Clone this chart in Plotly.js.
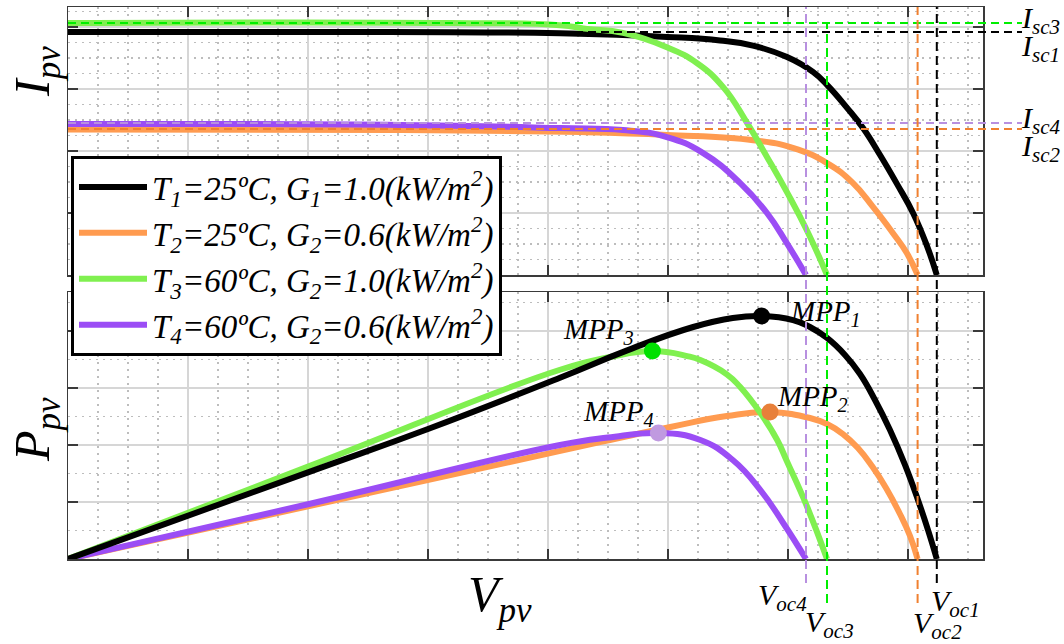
<!DOCTYPE html>
<html>
<head>
<meta charset="utf-8">
<script src="https://cdn.plot.ly/plotly-3.0.1.min.js"></script>
<style>html,body{margin:0;padding:0;background:#fff;}#chart{width:1064px;height:644px;}</style>
</head>
<body>
<div id="chart"></div>
<script>
// ---------- data (arbitrary units; axes carry no tick labels) ----------
// I-V curves (top panel)
const V_I1 = [0, 19.3, 31.8, 41, 49.92, 54.33, 57.08, 59.92, 62.08, 63.33, 64.92, 66.25, 67.67, 69.08, 70.42, 71.58, 72.4];
const I1   = [7.84, 7.84, 7.83, 7.80, 7.68, 7.565, 7.40, 7.03, 6.55, 6.10, 5.39, 4.74, 3.87, 2.94, 2.00, 0.94, 0];
const V_I2 = [0, 27.7, 42.7, 49.9, 57.1, 60.4, 63.25, 65.4, 67.1, 68.75, 69.9, 70.8];
const I2   = [4.69, 4.68, 4.61, 4.52, 4.35, 4.10, 3.61, 2.97, 2.19, 1.35, 0.71, 0];
const V_I3 = [0, 31.8, 41, 43.25, 46.25, 49.9, 52.4, 54.6, 56.6, 58.25, 59.9, 61.6, 63.25];
const I3   = [8.13, 8.13, 8.06, 7.94, 7.81, 7.35, 6.84, 6.06, 4.90, 3.81, 2.68, 1.42, 0];
const V_I4 = [0, 27.7, 41, 46.25, 49.9, 52.9, 56, 58.25, 59.9, 61.5];
const I4   = [4.87, 4.84, 4.74, 4.68, 4.45, 3.94, 2.97, 2.0, 1.03, 0];

// P-V curves (bottom panel)
const V_P1 = [0, 20, 30, 41, 46.6, 52.1, 55.4, 57.8, 60.42, 61.83, 63.25, 64.75, 66.0, 67.25, 68.5, 69.75, 70.83, 71.67, 72.4];
const P1   = [0, 76, 114, 159, 183, 203.5, 211.4, 213.1, 209.6, 203.5, 193.9, 179.0, 162.3, 139.5, 113.2, 82.5, 51.8, 25.4, 0];
const V_P2 = [0, 20, 40, 50.2, 54.9, 58.5, 61.83, 63.25, 64.58, 65.83, 67.0, 68.17, 69.33, 70.17, 70.8];
const P2   = [0, 46.2, 92.4, 115.8, 125.4, 128.9, 123.7, 118.4, 109.6, 97.3, 81.5, 62.2, 39.5, 20.2, 0];
const V_P3 = [0, 20, 41, 45.2, 48.7, 51.6, 52.7, 54.9, 56, 57.7, 59.1, 59.9, 61.6, 63.25];
const P3   = [0, 81, 166, 177.2, 182.4, 178, 174.5, 162, 151, 128, 104.4, 86, 45.6, 0];
const V_P4 = [0, 20, 41, 45, 49.2, 52.7, 55.4, 57.7, 59.6, 61.5];
const P4   = [0, 48, 100, 106.5, 110.5, 104.4, 86.8, 60.5, 31.6, 0];

// maximum power points (order: 1, 2, 3, 4)
const MPP_V = [57.8, 58.5, 48.7, 49.2];
const MPP_P = [213.1, 128.9, 182.4, 110.5];
const MPP_labels = ['MPP<sub>1</sub>', 'MPP<sub>2</sub>', 'MPP<sub>3</sub>', 'MPP<sub>4</sub>'];

// short-circuit currents and open-circuit voltages (order: 1, 2, 3, 4)
const Isc = [7.84, 4.71, 8.13, 4.90];
const Voc = [72.4, 70.8, 63.25, 61.5];
const Isc_labels = ['I<sub>sc1</sub>', 'I<sub>sc2</sub>', 'I<sub>sc3</sub>', 'I<sub>sc4</sub>'];
const Voc_labels = ['V<sub>oc1</sub>', 'V<sub>oc2</sub>', 'V<sub>oc3</sub>', 'V<sub>oc4</sub>'];

const names = [
  'T<sub>1</sub>=25ºC, G<sub>1</sub>=1.0(kW/m<sup>2</sup>)',
  'T<sub>2</sub>=25ºC, G<sub>2</sub>=0.6(kW/m<sup>2</sup>)',
  'T<sub>3</sub>=60ºC, G<sub>2</sub>=1.0(kW/m<sup>2</sup>)',
  'T<sub>4</sub>=60ºC, G<sub>2</sub>=0.6(kW/m<sup>2</sup>)'
];

// ---------- styling ----------
const lineColors = ['#000000', '#ff9b50', '#80f050', '#9b4df5'];
const dashColors = ['#000000', '#f08030', '#00ee00', '#b890e0'];
const mppColors  = ['#000000', '#e8803a', '#00e000', '#c09ae0'];
const FONT = 'Liberation Serif, Times New Roman, serif';

const W = 1064, H = 644;
const L = 68, R = 983, T = 7, B = 559;     // plotting rectangle (px)
const topBottomPx = 275, botTopPx = 292;
const xRange = [0, 76.25];
const yTopRange = [0, 8.645];
const yBotRange = [0, 234.2];
const domTop = [(B - topBottomPx) / (B - T), 1];
const domBot = [0, (B - botTopPx) / (B - T)];

function px2paperX(px) { return (px - L) / (R - L); }
function px2paperY(py) { return (B - py) / (B - T); }
function topY2paper(v) { return domTop[0] + (v - yTopRange[0]) / (yTopRange[1] - yTopRange[0]) * (domTop[1] - domTop[0]); }

const LW = 6;
const traces = [];
const Vi = [V_I1, V_I2, V_I3, V_I4], Ii = [I1, I2, I3, I4];
const Vp = [V_P1, V_P2, V_P3, V_P4], Pp = [P1, P2, P3, P4];
for (let k = 0; k < 4; k++) {
  traces.push({
    x: Vi[k], y: Ii[k], xaxis: 'x', yaxis: 'y', mode: 'lines', name: '<i>' + names[k] + '</i>',
    line: {color: lineColors[k], width: LW, shape: 'spline', smoothing: 1.3}, showlegend: true
  });
}
const orderP = [1, 3, 2, 0]; // draw order for P curves
for (const k of orderP) {
  traces.push({
    x: Vp[k], y: Pp[k], xaxis: 'x2', yaxis: 'y2', mode: 'lines', showlegend: false,
    line: {color: lineColors[k], width: LW, shape: 'spline', smoothing: 1.3}
  });
}
for (let k = 0; k < 4; k++) {
  traces.push({
    x: [MPP_V[k]], y: [MPP_P[k]], xaxis: 'x2', yaxis: 'y2', mode: 'markers', showlegend: false,
    marker: {color: mppColors[k], size: 17, line: {width: 0}}
  });
}

// dashed reference lines
const shapes = [];
const hEndPx = 1022;
for (let k = 0; k < 4; k++) {
  shapes.push({type: 'line', xref: 'paper', yref: 'y', x0: 0, x1: px2paperX(hEndPx), y0: Isc[k], y1: Isc[k],
    line: {color: dashColors[k], width: 2, dash: '8px,5px'}, layer: 'above'});
}
const vTop = [1, 1, topY2paper(Isc[2]), 1];
const vBotPx = [583, 603, 603, 583];
for (let k = 0; k < 4; k++) {
  shapes.push({type: 'line', xref: 'x', yref: 'paper', x0: Voc[k], x1: Voc[k], y0: px2paperY(vBotPx[k]), y1: vTop[k],
    line: {color: dashColors[k], width: 2, dash: '9px,5px'}, layer: 'above'});
}

// text labels
const annotations = [];
function ann(text, px, py, size, opts) {
  annotations.push(Object.assign({
    text: '<i>' + text + '</i>', xref: 'paper', yref: 'paper', x: px2paperX(px), y: px2paperY(py),
    showarrow: false, xanchor: 'left', yanchor: 'middle', font: {family: FONT, size: size, color: '#000'}
  }, opts || {}));
}
// axis titles
ann('I<sub>pv</sub>', 36, 72, 50, {xanchor: 'center', textangle: -90});
ann('P<sub>pv</sub>', 36, 430, 50, {xanchor: 'center', textangle: -90});
ann('V<sub>pv</sub>', 500, 598, 50, {xanchor: 'center'});
// Isc labels
const iscPy = [48, 148, 20, 120];
for (let k = 0; k < 4; k++) ann(Isc_labels[k], 1019, iscPy[k], 30);
// Voc labels
const vocPos = [[929, 603], [911, 625], [803, 624], [756, 597]];
for (let k = 0; k < 4; k++) ann(Voc_labels[k], vocPos[k][0], vocPos[k][1], 30);
// MPP labels
const mppPos = [[788, 313], [775, 398], [561, 331], [581, 413]];
for (let k = 0; k < 4; k++) ann(MPP_labels[k], mppPos[k][0], mppPos[k][1], 29);

const gridCol = '#d6d6d6', minorCol = '#bdbdbd', axCol = '#3a3a3a';
function xAx(anchor) {
  return {
    anchor: anchor, domain: [0, 1], range: xRange, showticklabels: false, zeroline: false,
    showline: true, linecolor: axCol, linewidth: 1.5, mirror: 'ticks',
    ticks: 'inside', ticklen: 10, tickwidth: 1.5, tickcolor: axCol, tick0: 0, dtick: 10,
    showgrid: true, gridcolor: gridCol, gridwidth: 2,
    minor: {tick0: 0, dtick: 2.5, showgrid: true, gridcolor: minorCol, gridwidth: 1.3, griddash: '2px,5px', ticks: ''}
  };
}
function yAx(anchor, domain, range, dtick, mdt) {
  return {
    anchor: anchor, domain: domain, range: range, showticklabels: false, zeroline: false,
    showline: true, linecolor: axCol, linewidth: 1.5, mirror: 'ticks',
    ticks: 'inside', ticklen: 10, tickwidth: 1.5, tickcolor: axCol, tick0: 0, dtick: dtick,
    showgrid: true, gridcolor: gridCol, gridwidth: 2,
    minor: {tick0: 0, dtick: mdt, showgrid: true, gridcolor: minorCol, gridwidth: 1.3, griddash: '2px,5px', ticks: ''}
  };
}

const layout = {
  width: W, height: H,
  margin: {l: L, r: W - R, t: T, b: H - B, pad: 0},
  paper_bgcolor: '#ffffff', plot_bgcolor: '#ffffff',
  xaxis: xAx('y'),
  xaxis2: Object.assign(xAx('y2'), {matches: 'x'}),
  yaxis: yAx('x', domTop, yTopRange, 2, 0.5),
  yaxis2: yAx('x2', domBot, yBotRange, 50, 25),
  showlegend: true,
  legend: {
    x: px2paperX(71), y: px2paperY(156), xanchor: 'left', yanchor: 'top',
    bgcolor: '#ffffff', bordercolor: '#000000', borderwidth: 3,
    font: {family: FONT, size: 33, color: '#000'}, tracegroupgap: 0, itemwidth: 68
  },
  shapes: shapes,
  annotations: annotations
};

Plotly.newPlot('chart', traces, layout, {displayModeBar: false, staticPlot: true});
</script>
</body>
</html>
